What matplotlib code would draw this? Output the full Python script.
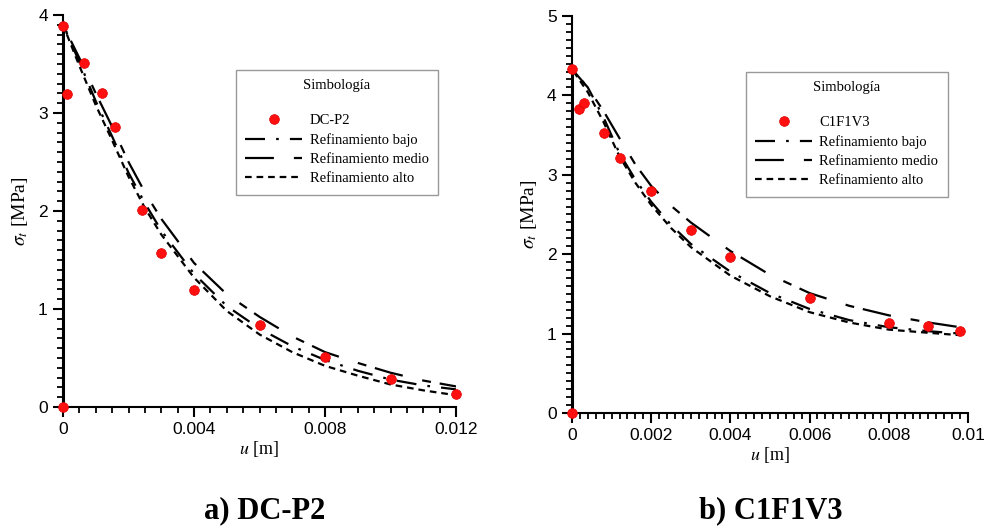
import numpy as np
import matplotlib
matplotlib.use("Agg")
import matplotlib.pyplot as plt
from matplotlib.ticker import MultipleLocator, FixedLocator

# DC-P2 (left panel)
dc_u = [0, 0, 0.00011, 0.00065, 0.0012, 0.0016, 0.0024, 0.003, 0.004, 0.006, 0.008, 0.010, 0.012]
dc_s = [0, 3.89, 3.19, 3.51, 3.20, 2.86, 2.01, 1.57, 1.19, 0.84, 0.51, 0.29, 0.13]
dc_x = [0, 0, 0.0005, 0.001, 0.0015, 0.002, 0.0025, 0.003, 0.004, 0.005, 0.006, 0.007, 0.008, 0.009, 0.010, 0.011, 0.012]
dc_bajo = [0, 3.9, 3.52, 3.12, 2.76, 2.39, 2.08, 1.80, 1.36, 1.03, 0.80, 0.62, 0.48, 0.37, 0.28, 0.22, 0.18]
dc_medio = [0, 3.9, 3.56, 3.20, 2.86, 2.50, 2.19, 1.92, 1.47, 1.15, 0.92, 0.72, 0.56, 0.45, 0.35, 0.27, 0.21]
dc_alto = [0, 3.9, 3.48, 3.08, 2.72, 2.35, 2.03, 1.76, 1.32, 0.98, 0.74, 0.56, 0.42, 0.32, 0.23, 0.17, 0.12]

# C1F1V3 (right panel)
c1_u = [0, 0, 0.00018, 0.0003, 0.0008, 0.0012, 0.002, 0.003, 0.004, 0.006, 0.008, 0.009, 0.0098]
c1_s = [0, 4.33, 3.83, 3.91, 3.52, 3.21, 2.79, 2.31, 1.96, 1.45, 1.13, 1.09, 1.03]
c1_x = [0, 0, 0.0004, 0.0008, 0.0012, 0.0016, 0.002, 0.0025, 0.003, 0.004, 0.005, 0.006, 0.007, 0.008, 0.009, 0.0098]
c1_bajo = [0, 4.33, 4.10, 3.72, 3.27, 2.94, 2.66, 2.37, 2.13, 1.78, 1.51, 1.31, 1.17, 1.08, 1.03, 1.00]
c1_medio = [0, 4.33, 4.10, 3.80, 3.46, 3.13, 2.86, 2.61, 2.40, 2.04, 1.74, 1.51, 1.35, 1.23, 1.14, 1.08]
c1_alto = [0, 4.33, 4.04, 3.66, 3.23, 2.90, 2.62, 2.33, 2.09, 1.73, 1.47, 1.27, 1.14, 1.05, 1.01, 0.98]

serif = "Liberation Serif"
sans = "Liberation Sans"
plt.rcParams["mathtext.fontset"] = "stix"

fig = plt.figure(figsize=(9.85, 5.29), dpi=100)
ax1 = fig.add_axes([0.064, 0.2306, 0.399, 0.741])
ax2 = fig.add_axes([0.5807, 0.2193, 0.402, 0.7505])


def panel(ax, u, s, x, bajo, medio, alto, name, xmax, ymax, xmaj, xmin, lpos):
    ax.plot(x, bajo, color="black", lw=1.6, dashes=(9, 5, 1.2, 5),
            label="Refinamiento bajo")
    ax.plot(x, medio, color="black", lw=1.6, dashes=(13, 9, 4, 4),
            label="Refinamiento medio")
    ax.plot(x, alto, color="black", lw=1.6, dashes=(3, 2.2),
            label="Refinamiento alto")
    # solid rise at u = 0 (all curves overlap there)
    ax.plot(x[:2], alto[:2], color="black", lw=2.2, solid_capstyle="butt")
    ax.plot(u, s, "o", color="#ff1010", ms=7, mec="#dd0000", mew=0.5,
            label=name, zorder=5, clip_on=False)
    ax.set_xlim(0, xmax)
    ax.set_ylim(0, ymax)
    for sp in ["top", "right"]:
        ax.spines[sp].set_visible(False)
    for sp in ["left", "bottom"]:
        ax.spines[sp].set_linewidth(1.5)
    ax.xaxis.set_major_locator(FixedLocator(xmaj))
    ax.xaxis.set_minor_locator(MultipleLocator(xmin))
    ax.yaxis.set_major_locator(MultipleLocator(1))
    ax.yaxis.set_minor_locator(MultipleLocator(0.1))
    ax.set_xticklabels(["0" if v == 0 else ("%g" % v) for v in xmaj])
    ax.tick_params(which="major", length=7, width=1.5, direction="out",
                   labelsize=12.5, pad=4)
    ax.tick_params(which="minor", length=4, width=1.3, direction="out")
    for lab in ax.get_xticklabels() + ax.get_yticklabels():
        lab.set_family(sans)
    ax.set_xlabel(r"$u$ [m]", fontsize=13, family=serif, labelpad=1)
    ax.set_ylabel(r"$\sigma_t$ [MPa]", fontsize=14, family=serif, labelpad=6)
    h, l = ax.get_legend_handles_labels()
    order = [3, 0, 1, 2]
    leg = ax.legend([h[i] for i in order], [l[i] for i in order],
                    title="Simbología\n", loc="upper left",
                    bbox_to_anchor=lpos, borderaxespad=0, frameon=True,
                    fancybox=False, edgecolor="#808080", handlelength=3.9,
                    handletextpad=0.5, labelspacing=0.42, borderpad=0.65,
                    prop={"family": serif, "size": 10.5})
    leg.get_title().set_family(serif)
    leg.get_title().set_fontsize(10.5)
    leg.get_frame().set_linewidth(1.0)


panel(ax1, dc_u, dc_s, dc_x, dc_bajo, dc_medio, dc_alto, "DC-P2",
      0.012, 4, [0, 0.004, 0.008, 0.012], 0.0005, (0.44, 0.86))
panel(ax2, c1_u, c1_s, c1_x, c1_bajo, c1_medio, c1_alto, "C1F1V3",
      0.01, 5, [0, 0.002, 0.004, 0.006, 0.008, 0.01], 0.0002, (0.439, 0.859))

fig.text(0.269, 0.008, "a) DC-P2", family=serif, weight="bold", fontsize=22,
         ha="center", va="bottom")
fig.text(0.782, 0.008, "b) C1F1V3", family=serif, weight="bold", fontsize=22,
         ha="center", va="bottom")

fig.savefig("out.png", dpi=100)
